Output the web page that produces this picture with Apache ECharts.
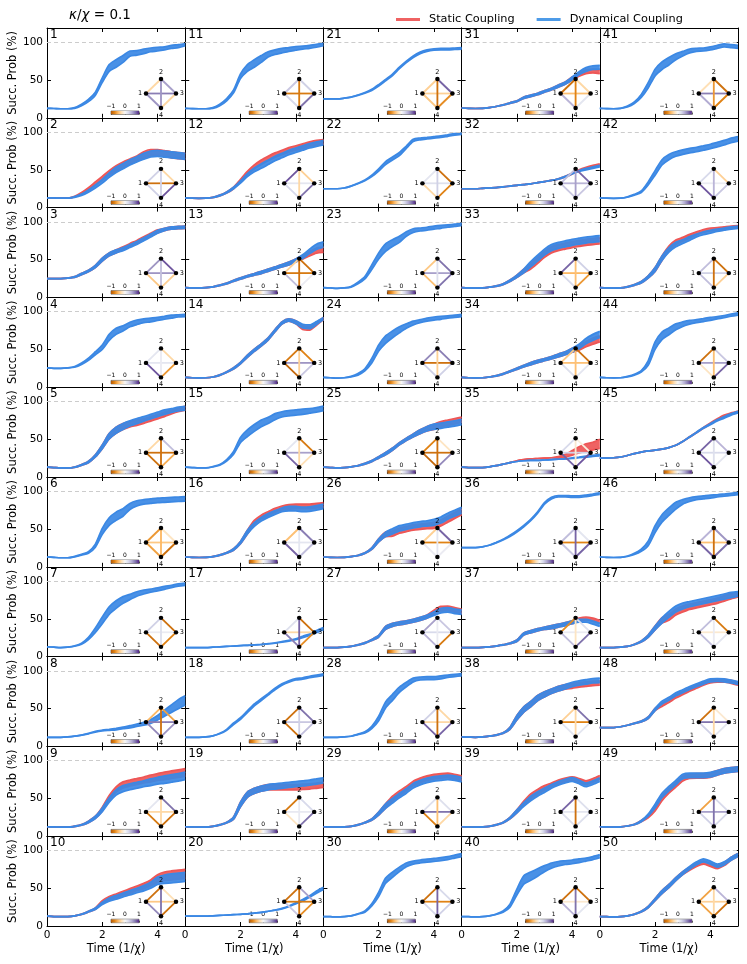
<!DOCTYPE html>
<html><head><meta charset="utf-8">
<script src="https://cdn.jsdelivr.net/npm/echarts/dist/echarts.min.js"></script>
<style>html,body{margin:0;padding:0;background:#fff}#c{width:747px;height:964px}</style>
</head><body><div id="c"></div>
<script>
// ---------------- DATA ----------------
const timeGrid = [0,0.25,0.5,0.75,1,1.25,1.5,1.75,2,2.25,2.5,2.75,3,3.25,3.5,3.75,4,4.25,4.5,4.75,5];
const xTicks = [0,2,4];
const yTicks = [0,50,100];
const cbTicks = [-1,0,1];

// Dynamical coupling (blue) band centre, panels 1..50
const blueMid = [
[12.5,12.3,12,12,13,17,23,32,50,66,72,78,85,86,88,90,91,92,94,95,97],
[13,12.8,12.5,12.5,14,17,22,28,35,43,50,55,60,64,68,71,72,71,70,69,68],
[25,25,25,25.5,27,31,35,41,50,57,61,64,68,72,77,82,87,90,92,92.5,93],
[25.5,25,25,25.5,27,31,37,45,53,66,74,78,83,86,88,89,90.5,92,93.5,94.5,95],
[13,12.5,12,12,13,16,20,28,40,54,62,67,71,74,77,80,83,86,88,90,91],
[13,12.5,12,12,13.5,16,19,28,47,60,67,72,80,84,86,87,88,88.5,89,89.5,90],
[13,12.5,12,12.5,14,17,24,35,48,61,69,75,79,83,85.5,87.5,89,91,93,95,96],
[12,12,12,12.5,13.5,15,17,19.5,21,22,23,24.5,26,28,30,33,38,44,50,56,61],
[12.5,12.3,12,12,13,15,19,25,35,48,58,63,65.5,67.5,69.5,71.5,73.5,75,76.5,78,80],
[13,12.5,12.3,12.5,13.5,15.5,19,23,30,35,38,41,44,47,50,54,60,62,63,64,65],
[12.5,12.2,12,12,13,17,24,35,55,66,72,78,84,87,89,90.5,92,93,94,95.5,97],
[13,12.5,12.3,12.5,13.5,16,20,26,34,43,50,55,60,65,69,73,76,79,82,84,86],
[13,12.5,12.5,13,14,16,18.5,22,25,28,30.5,33,36,39,42,45,49,54,61,67,70],
[13,12.5,12.3,12.5,13.5,16,20,25,32,41,49,56,64,75,85,89,86,81,80,85,91],
[13,12.5,12,12,13.5,16,22,32,49,58,65,71,75,80,83,84.5,85.5,86.5,87.5,89,91],
[13,12.5,12.3,12.5,13.5,15.5,18.5,23,32,46,56,63,68,72,75.5,77,77,76,76.5,78,80],
[12,12,12,12,12.5,13,13.5,14,14.5,15,15.5,16,17,18,19.5,21,23,26,29,33,37],
[12,12,12,12.5,14,17,22,30,37,46,55,62,69,76,82,86,89,90,92,93.5,95],
[12.5,12.3,12,12,13,15,18,24,42,55,60,63,65,66,67,68,69,70,71,72.5,74],
[13,13,13,13,13.5,14,14.5,15,15.5,16,17,18,19.5,21,23,26,30,34,39,45,50],
[25,25,25,26,27.5,30,33,37,43,50,57,66,74,81,86,89,90.5,91,91,91.5,92],
[25,25,25,26,28.5,32,36,42,50,59,65,71,80,89,91,92,93,94,95.5,97,98],
[13,12.5,12,12.5,14,19,26,40,55,66,72,77,84,88.5,90,91,92.5,93.5,94.5,95.5,97],
[13,12.5,12,12.5,14,17,23,35,52,63,70,76,81,85,87.5,89.5,91,92,93,94,95],
[13,12.5,12,12.5,13.5,15,17.5,21,26,31,37,44,50,55,60,64,66.5,68,69.5,71,73],
[13,12.5,12.3,12.5,13.5,15,18,24,35,43,47,51,53,55,56.5,57.5,59,62,67,71,75],
[12,12,12,12.5,13.5,15.5,18,22,27,38,42,44,45.5,47.5,50,53,57,61,62,60,59],
[12,12,12,12.5,13.5,16,18.5,25,37,55,65,75,82,88,90,90.5,90.5,91.5,93,94,95],
[12.5,12.3,12,12.3,13,15,18,22,30,40,47,54,60,67,71,74,76,77,78,77,75],
[12.5,12.3,12,12.5,13.5,16,19,28,42,60,68,75,81,84,85.5,86.5,87.5,88.5,90,92,94],
[13,12.5,12.3,12.5,13.5,15,17,19.5,22,26.5,29,31.5,35,38,42,46,52,59,64,66.5,67],
[25,25,25,25.5,26,26.5,27.5,28.5,29.5,30.5,31.5,33,34.5,36,38,41,45,48.5,51,53,55],
[13,12.5,12.3,12.5,13.5,15,17.5,22,28,35,44,52,60,66,69,71,73,74.5,76,77,78],
[13,12.5,12.3,12.5,13.5,15,17.5,21,24.5,28,31,34,36.5,39,42,45,49,54,61,66,70],
[13,12.5,12.3,12.5,13.5,15,17,19,20.5,21.5,22,22,22.5,23,23.5,24,25,26,27,28,29],
[25.5,25.5,25.5,26.5,28.5,32,36,41,47,54,62,72,84,91,93.5,93.5,93,93,94,95.5,97],
[12,12,12,12.3,13,14,15.5,17.5,21,30,33,35.5,37.5,39,41,43,45.5,47.5,47.5,45,42],
[12.5,12.3,12,12.5,13.5,15,17.5,24,38,49,56,64,69,73,76.5,79,82,84,85.5,87,87.5],
[12.5,12.3,12,12.3,13,15,18,24,33,42,50,56,61,66,70,73,75,72,68,71,75],
[12.5,12.3,12,12.3,13.5,15.5,19,27,45,61,66,71,76,80,82.5,84,85,86.5,88,90,92.5],
[12.5,12.2,12,12.5,15,20,29,43,60,69,75,81,85,88.5,90,90.5,92,94,96,95,94],
[13,12.5,12.3,12.5,14,17,21,32,46,60,67,71,73.5,75.5,77,79,81,83.5,86,89,91],
[13,12.5,12.3,12.5,14,16.5,20,27,37,52,63,70,74,78,82,85,87,89,90.5,92,93],
[13,12.5,12.3,12.5,14,16.5,21,32,55,68,74,80,83.5,86,87.5,89,90.5,92,93.5,95.5,97],
[25,25,25.5,26.5,28.5,31,33,34.5,35.5,37,39,42,47,53,59,65,70,75,79,83,86],
[13,12.5,12.3,12.5,14,17,22,31,50,64,73,81,86,89,91,92,93,94,95,96,97],
[12,12,12,12.5,13.5,16,20,27,38,48,56,63,67,69.5,71.5,73.5,75.5,77.5,79.5,81.5,83],
[25,25,25,26,28,30.5,33,38,49,58,63,69,73,77.5,81,84.5,87.5,88,87.5,86,84],
[12.5,12.3,12,12.3,13.5,15.5,20,28,40,54,63,71,79,80.5,80.5,80.5,81.5,84,86.5,88,89],
[12.5,12.3,12,12.3,13.5,15.5,19,25,35,45,53,62,70,77,83,87,84,80,83,89,94]
];

// half-width of the blue band (shot-to-shot spread), panels 1..50
const blueHalf = [
[0,0,0,0,0.5,1,1.5,2,3,4.5,5,4.5,3.5,3,3,2.5,2.5,2,2,2,1.5],
[0,0,0,0,0.5,1,1.5,2,2.5,3,3.5,3.5,3.5,3.5,4,4,4,4,4,4,4],
[0,0,0,0,0.5,1,1,1.5,2,2,2,2,2,2,2,2,2,1.5,1.5,1.5,1.5],
[0,0,0,0,0.5,1,1.5,2,3,4,4,3.5,3,3,2.5,2.5,2,2,2,1.5,1.5],
[0,0,0,0,0.3,0.5,1,1.5,2.5,3.5,4,4,3.5,3.5,3,3,3,3,2.5,2.5,2.5],
[0,0,0,0,0.3,0.5,1,2,4,5,5.5,5,4,3.5,3,3,3,3,3,3,3],
[0,0,0,0,0.3,0.7,1.5,3,4.5,5,5,4.5,3.5,3,2.5,2,2,2,1.5,1.5,1.5],
[0,0,0,0,0,0,0.3,0.5,0.5,0.7,1,1,1.5,1.5,2,2.5,3,4,5,6,6],
[0,0,0,0,0.3,0.5,1,1.5,2.5,3,3.5,4,4,4,4,4.5,4.5,5,5,5,5],
[0,0,0,0,0,0.3,0.5,1,1.5,2,2.5,2.5,3,3,3.5,4,5,5.5,6,6,6],
[0,0,0,0,0.5,1,1.5,2,3,4.5,5,4.5,3.5,3,3,2.5,2.5,2,2,2,1.5],
[0,0,0,0,0.2,0.5,0.8,1,1.5,2,2.5,3,3,3,3,3,3,3,3,3,3],
[0,0,0,0,0,0.3,0.5,0.8,1,1,1.2,1.5,1.5,1.5,1.5,2,2,2.5,3,3.5,3.5],
[0,0,0,0,0,0.3,0.5,1,1,1.5,1.5,1.5,1.5,1.5,1.5,1.5,2,2.5,2.5,2,1.5],
[0,0,0,0,0.3,0.5,1,2,3.5,4.5,4.5,4.5,4,4,3.5,3.5,3.5,3.5,3,3,3],
[0,0,0,0,0,0.3,0.5,1,1.5,2.5,2.5,2.5,2.5,2.5,2.5,3,3,3,3,3,3],
[0,0,0,0,0,0,0,0,0,0,0,0,0.3,0.3,0.5,0.5,0.7,1,1,1.5,1.5],
[0,0,0,0,0,0.3,0.5,1,1,1.2,1.2,1.2,1,1,1,1,1,1,1,1,1],
[0,0,0,0,0,0.3,0.5,1.5,3,3.5,3.5,3.5,3.5,3.5,3.5,3.5,3.5,3.5,3.5,3.5,3.5],
[0,0,0,0,0,0,0,0,0,0,0,0,0,0,0.3,0.5,0.7,1,1,1.5,1.5],
[0,0,0,0,0,0.3,0.5,0.7,1,1,1,1,1,1,1,1,1,1,1,1,1],
[0,0,0,0,0,0.3,0.5,1,1.5,2,2,2,1.5,1.5,1.2,1,1,1,1,1,1],
[0,0,0,0,0.3,1,1.5,3,4,5,4.5,4,3,2.5,2,2,2,2,1.5,1.5,1.5],
[0,0,0,0,0.3,1,1.5,3,4,5,4.5,4,3,2.5,2,2,2,2,1.5,1.5,1.5],
[0,0,0,0,0,0.3,0.5,0.7,1,1.5,1.5,1.5,1.5,2,2.5,3,3.5,3.5,3.5,3.5,3.5],
[0,0,0,0,0,0.3,0.5,1,2,3,3.5,3.5,3.5,3.5,3.5,3.5,4,4,4,4,4],
[0,0,0,0,0,0.3,0.5,0.8,1,2,2,2,2,2,2,2,2.5,3,3,3,3],
[0,0,0,0,0,0.3,0.8,1.5,3,4,4,3.5,3,2.5,2,2,2,2,1.5,1.5,1.5],
[0,0,0,0,0,0.3,0.5,1,2,3,3,3,3,3,3,3,3,3,3,3,3],
[0,0,0,0,0,0.3,0.8,1.5,3,3.5,3.5,3,2.5,2,2,2,2,2,2,2,2],
[0,0,0,0,0,0,0.3,0.5,0.7,1,1,1,1,1.2,1.5,1.5,2,2,2.5,2.5,2.5],
[0,0,0,0,0,0,0,0,0,0,0,0,0,0,0.3,0.5,0.5,0.7,1,1,1],
[0,0,0,0,0,0.3,0.5,1,1.5,2.5,3.5,4,4,4,4,4,4,4,4,4,4],
[0,0,0,0,0,0.3,0.5,0.7,1,1,1.5,1.5,1.5,1.5,2,2,2.5,3,3.5,4,4],
[0,0,0,0,0,0,0,0,0,0,0,0,0,0,0,0,0.5,0.5,0.7,0.7,1],
[0,0,0,0,0,0.3,0.5,1,1,1,1,1,1,1,1,1,1,1,1,1,1],
[0,0,0,0,0,0,0.3,0.5,1,1.5,1.5,1.5,1.5,2,2,2,2,2,2,2,2],
[0,0,0,0,0,0.3,0.5,1.5,3,3.5,3.5,3.5,3.5,3,3,3,3,3,3,3,3],
[0,0,0,0,0,0.3,0.5,1,2,2.5,3,3,3,2.5,2.5,2.5,2.5,2.5,2.5,2.5,2.5],
[0,0,0,0,0,0.3,0.8,2,4,5.5,5.5,5,4,3.5,3,2.5,2.5,2.5,2,2,2],
[0,0,0,0,0.5,1,2,3.5,4.5,5,5,4,3,2.5,2,2,2,2,2,2,2],
[0,0,0,0,0.3,0.5,1,2,3,3.5,3.5,3,3,3,3,3,3,3,3,3,3],
[0,0,0,0,0.3,0.5,1,1.5,2.5,3,3,3,2.5,2.5,2,2,2,1.5,1.5,1.5,1.5],
[0,0,0,0,0.3,0.5,1,3,5,5,4.5,4,3,2.5,2,2,2,1.5,1.5,1.5,1.5],
[0,0,0,0,0,0,0,0,0,0,0,0,0,0.3,0.5,0.5,0.7,0.7,1,1,1],
[0,0,0,0,0.3,0.8,1.5,3,4.5,5,5,4.5,3,2.5,2,2,2,1.5,1.5,1.5,1.5],
[0,0,0,0,0,0.3,0.8,1.5,2.5,3.5,4,4,4,3.5,3.5,3.5,3.5,3.5,3.5,3.5,3],
[0,0,0,0,0,0.3,0.5,1,1.5,2,2,2,2,2,2,2,2,2,2,2,2],
[0,0,0,0,0,0.3,0.8,1.5,2.5,3,3,3,3,3,3,3,3,3,3,3,3],
[0,0,0,0,0,0.3,0.5,1,1.5,2,2,2,2,2,2,2,2,2,2,2,2]
];

// Static coupling (red) where it departs from the blue band: panel -> [first time index, centre values]
const redShift = {
  2:[4,[14.5,19,25,32,39,46,52,57,61,65,70,73,73,71.5,70,69,68]],
  3:[11,[65,69.5,73.5,78.5,83,87.5]],
  5:[12,[70,72,74,77,80,83,86,89,91]],
  9:[8,[36,51,62,68,70.5,72.5,74.5,76.5,78.5,80,81.5,83,84.5]],
  10:[8,[32,37,40,43.5,46.5,50,53,57,63,66,67,68,69]],
  12:[8,[36,46,54,60,65,69.5,73,76.5,79,81.5,84,86,87]],
  13:[17,[53,58,62,63]],
  14:[17,[79,78,84,91]],
  16:[10,[59,66,70.5,75,78,79.5,80,80,80,81,82]],
  19:[12,[65,65,65,65,65,65.5,66,67,68]],
  25:[16,[66.5,70,72,74,76]],
  26:[10,[44,48,50,52,53,54,55,58,63,68,73]],
  27:[16,[59,63.5,64,62,60]],
  29:[10,[50,57,63,70,74,77,79,80,80.5,79,77]],
  31:[17,[57,61,62,61]],
  32:[17,[49.5,52.5,55,57]],
  33:[10,[41,49,57,63,66,68,70,71.5,73,74,75]],
  34:[17,[52,57,61,64]],
  35:[8,[21.5,23,24,24.5,25,25.5,26,28,32,36,39,41,44]],
  37:[17,[49,50.5,49,46]],
  38:[16,[80,81.5,82.5,83.5,84]],
  39:[9,[44,53,59,64,68,72,74.5,76,74,71,74,78]],
  43:[10,[65,73,77,81,85,88,90,91,92,93,93.5]],
  45:[16,[71,76.5,81,84,86.5]],
  47:[10,[52,59,63,66,68,70,72,74,77,80,82]],
  48:[9,[55,60,66,70.5,75,79,83,86,87,87,85.5,83]],
  49:[7,[26,36,50,60,68,76,79.5,80,80,81,84,86.5,88,89]],
  50:[13,[76,81,84,81,78,82,89,94]]
};
const redHalfShift = { 35:[14,[1,2,3,4,5,5,6]] };

// coupling values on the inset edges [1-2, 2-3, 3-4, 4-1, 1-3, 2-4], panels 1..50
const edgeVals = [
[-0.3,0.55,-0.3,0.6,0.7,0.6],[0.3,-0.3,0.85,0.3,-0.85,0.3],[0.6,0.85,-0.35,-0.4,0.6,0.4],
[0.15,-0.3,-0.65,0.85,0.15,0.1],[-0.3,0.4,-0.55,-0.85,-0.85,-0.85],[-0.65,-0.2,-0.85,-0.6,-0.4,-0.5],
[0.3,-0.85,-0.75,-0.85,0.1,0.2],[-0.5,-0.6,0.6,0.65,0.7,-0.85],[0.15,0.75,-0.85,-0.8,-0.3,-0.3],
[-0.85,-0.25,-0.85,0.65,-0.4,0.75],
[0.35,0.3,0.75,0.25,-0.8,-0.8],[0.85,-0.35,0.75,0.25,0.15,-0.3],[-0.35,-0.85,0.1,0.4,-0.8,-0.85],
[-0.8,-0.75,0.35,-0.9,0.6,-0.35],[0.15,-0.8,-0.25,0.8,0.55,-0.3],[-0.45,0.7,0.4,0.8,0.15,0.15],
[0.2,-0.85,-0.7,0.7,-0.3,0.8],[-0.85,0.75,0.4,-0.85,0.35,0.3],[-0.8,0.25,0.75,-0.2,0.12,0.12],
[-0.85,0.55,-0.7,0.35,-0.8,-0.85],
[-0.35,0.8,-0.7,-0.4,-0.35,-0.85],[0.15,-0.85,-0.75,-0.3,0.2,0.3],[-0.4,0.75,0.75,-0.45,0.55,0.2],
[0.65,0.7,0.3,0.3,-0.85,-0.35],[-0.75,-0.2,0.65,-0.9,-0.85,-0.85],[-0.35,0.8,0.1,0.1,-0.75,0.15],
[0.55,0.35,-0.8,0.45,0.25,0.1],[0.3,-0.3,0.8,0.8,-0.3,-0.85],[0.2,0.2,-0.3,-0.75,0.75,-0.45],
[-0.85,0.25,0.3,0.25,-0.75,0.8],
[-0.85,-0.3,0.15,0.45,-0.45,-0.75],[0.4,0.8,0.35,0.35,0.45,0.55],[0.8,0.3,-0.65,0.25,-0.5,-0.45],
[-0.4,-0.85,0.15,0.2,-0.45,-0.45],[0.25,-0.1,0.85,0.8,0.3,-0.15],[0.4,0.15,0.8,0.35,-0.75,0.8],
[-0.7,0.2,0.75,0.4,0.1,-0.2],[-0.35,0.75,0.15,0.15,-0.75,-0.3],[0.8,0.2,0.2,0.2,0.15,-0.85],
[-0.85,-0.85,0.15,0.45,-0.15,0.75],
[-0.25,-0.85,-0.75,0.5,0.7,-0.65],[0.25,-0.35,0.35,0.85,0.1,0.45],[0.4,-0.85,-0.35,0.4,0.3,-0.85],
[-0.85,0.35,0.8,-0.2,0.55,-0.45],[0.8,0.45,0.15,0.85,0.25,0.2],[0.45,0.6,0.75,0.8,-0.45,-0.85],
[0.4,-0.8,0.15,0.4,-0.15,0.1],[-0.85,-0.15,0.15,0.3,0.75,-0.3],[-0.6,0.25,0.25,0.3,0.55,0.75],
[-0.6,0.45,-0.85,-0.6,-0.35,-0.3]
];
const nodeNames = ['1','2','3','4'];
const nodeSlots = [[0,1],[1,0],[2,1],[1,2]];          // diamond arrangement of the four nodes
const nodeLabelSide = ['left','top','right','bottom'];
const edgePairs = [[0,1],[1,2],[2,3],[3,0],[0,2],[1,3]];

// ---------------- STYLE ----------------
const FONT = 'DejaVu Sans';
const BLUE = '#3b88e4', RED = '#ee5656';
const cmapStops = [[-1,'#b35806'],[-0.75,'#e08214'],[-0.5,'#fdb863'],[-0.25,'#fee0b6'],[0,'#f7f7f7'],
                   [0.25,'#d8daeb'],[0.5,'#b2abd2'],[0.75,'#8073ac'],[1,'#542788']];
function hex2rgb(h){return [parseInt(h.substr(1,2),16),parseInt(h.substr(3,2),16),parseInt(h.substr(5,2),16)];}
function cmap(v){
  v=Math.max(-1,Math.min(1,v));
  for(let i=0;i<cmapStops.length-1;i++){
    const a=cmapStops[i],b=cmapStops[i+1];
    if(v<=b[0]){const f=(v-a[0])/(b[0]-a[0]);const ca=hex2rgb(a[1]),cb=hex2rgb(b[1]);
      return 'rgb('+ca.map((x,k)=>Math.round(x+(cb[k]-x)*f)).join(',')+')';}
  }
  return cmapStops[cmapStops.length-1][1];
}

const GL=47, GT=28, GW=138.2, GH=89.8;
const grids=[], xAxes=[], yAxes=[], series=[];
const titles=[{text:'{i|κ}/{i|χ} = 0.1', left:69, top:8, padding:0,
  textStyle:{fontSize:13.5, fontWeight:'normal', color:'#000', fontFamily:FONT,
    rich:{i:{fontStyle:'italic', fontSize:13.5, fontFamily:FONT, color:'#000'}}}}];

function addBand(xi, yi, mid, half, color, name, z, withRef){
  const lo = timeGrid.map((t,k)=>[t, mid[k]-half[k]]);
  const hi = timeGrid.map((t,k)=>[t, mid[k]+half[k]]);
  // filled spread between the lower and upper edge
  series.push({type:'custom', name, xAxisIndex:xi, yAxisIndex:yi, z, silent:true, animation:false,
    data: timeGrid.map((t,k)=>[t, lo[k][1], hi[k][1]]),
    encode:{x:0, y:[1,2]},
    renderItem:(params, api)=>{
      if(params.dataIndex!==0) return null;
      const pts=[];
      for(let k=0;k<lo.length;k++) pts.push(api.coord(lo[k]));
      for(let k=hi.length-1;k>=0;k--) pts.push(api.coord(hi[k]));
      return {type:'polygon', shape:{points:pts}, style:{fill:color, opacity:0.92}};
    }});
  const common = {type:'line', name, xAxisIndex:xi, yAxisIndex:yi, symbol:'none',
    smooth:0.25, silent:true, animation:false, z, lineStyle:{color, width:1.7}};
  const base = Object.assign({}, common, {data:lo});
  if(withRef){
    base.markLine = {silent:true, symbol:['none','none'], label:{show:false}, animation:false,
      lineStyle:{color:'#cccccc', type:[4,3], width:1.2}, data:[{yAxis:100}]};
  }
  series.push(base);
  series.push(Object.assign({}, common, {data:hi}));
}

for(let p=0;p<50;p++){
  const c=Math.floor(p/10), r=p%10;
  const left=GL+c*GW, top=GT+r*GH;
  const gi=grids.length;
  grids.push({left, top, width:GW, height:GH, show:false, containLabel:false, outerBoundsMode:'none'});
  const axLine={show:true, onZero:false, lineStyle:{color:'#000', width:1}};
  const tick={show:true, inside:true, length:4, lineStyle:{color:'#000', width:1}};
  const xi=xAxes.length;
  xAxes.push({gridIndex:gi, type:'value', min:0, max:5, interval:2, position:'bottom',
    axisLine:axLine, axisTick:tick, splitLine:{show:false},
    axisLabel:{show:r===9, fontSize:10.5, color:'#000', fontFamily:FONT, margin:4,
      formatter:v=>xTicks.indexOf(v)>=0?String(v):''},
    name:r===9?'Time (1/χ)':'', nameLocation:'middle', nameGap:17,
    nameTextStyle:{fontSize:11.5, color:'#000', fontFamily:FONT}});
  xAxes.push({gridIndex:gi, type:'value', min:0, max:5, interval:2, position:'top',
    axisLine:axLine, axisTick:tick, splitLine:{show:false}, axisLabel:{show:false}});
  const yi=yAxes.length;
  yAxes.push({gridIndex:gi, type:'value', min:0, max:119, interval:50, position:'left',
    axisLine:axLine, axisTick:tick, splitLine:{show:false},
    axisLabel:{show:c===0, fontSize:10.5, color:'#000', fontFamily:FONT, margin:4,
      formatter:v=>yTicks.indexOf(v)>=0?String(v):''},
    name:c===0?'Succ. Prob (%)':'', nameLocation:'middle', nameGap:22, nameRotate:90,
    nameTextStyle:{fontSize:11.5, color:'#000', fontFamily:FONT}});
  yAxes.push({gridIndex:gi, type:'value', min:0, max:119, interval:50, position:'right',
    axisLine:axLine, axisTick:tick, splitLine:{show:false}, axisLabel:{show:false}});

  const mid=blueMid[p], half=blueHalf[p];
  // static coupling curve (drawn first, under the dynamical one)
  const rs=redShift[p+1];
  if(rs){
    const rmid=mid.slice(); rs[1].forEach((v,k)=>{rmid[rs[0]+k]=v;});
    const rhalf=half.slice(); const rh=redHalfShift[p+1];
    if(rh){ rh[1].forEach((v,k)=>{rhalf[rh[0]+k]=v;}); }
    addBand(xi, yi, rmid, rhalf, RED, 'Static Coupling', 2, false);
  }
  addBand(xi, yi, mid, half, BLUE, 'Dynamical Coupling', 3, true);

  titles.push({text:String(p+1), left:left+3, top:top+1, padding:0,
    textStyle:{fontSize:12, fontWeight:'normal', color:'#000', fontFamily:FONT}});

  // colour bar
  const cg=grids.length;
  grids.push({left:left+64, top:top+83, width:28, height:3.5, show:true, borderColor:'#333', borderWidth:0.6,
    backgroundColor:'rgba(0,0,0,0)', containLabel:false, outerBoundsMode:'none'});
  const cx=xAxes.length;
  xAxes.push({gridIndex:cg, type:'value', min:-1, max:1, interval:1, position:'top',
    axisLine:{show:false}, axisTick:{show:true, length:2, lineStyle:{color:'#000', width:0.6}},
    splitLine:{show:false},
    axisLabel:{fontSize:6, color:'#000', fontFamily:FONT, margin:1.5,
      formatter:v=>cbTicks.indexOf(v)<0?'':(v<0?'−'+Math.abs(v):String(v))}});
  const cy=yAxes.length;
  yAxes.push({gridIndex:cg, type:'value', min:0, max:1, show:false});
  series.push({type:'line', xAxisIndex:cx, yAxisIndex:cy, data:[[-1,1],[1,1]], symbol:'none',
    lineStyle:{width:0}, silent:true, animation:false, z:6,
    areaStyle:{opacity:1, color:new echarts.graphic.LinearGradient(0,0,1,0,
      cmapStops.map(s=>({offset:(s[0]+1)/2, color:s[1]})))}});

  // inset coupling graph
  series.push({type:'graph', layout:'none', left:left+99, top:top+51, width:30, height:29,
    roam:false, silent:true, animation:false, z:7,
    symbol:'circle', symbolSize:4.5, itemStyle:{color:'#000'},
    label:{show:true, fontSize:6.5, color:'#000', fontFamily:FONT, distance:1.5},
    edgeSymbol:['none','none'],
    data:nodeNames.map((n,k)=>({name:n, x:nodeSlots[k][0], y:nodeSlots[k][1],
      label:{position:nodeLabelSide[k]}})),
    links:edgePairs.map((e,k)=>({source:nodeNames[e[0]], target:nodeNames[e[1]],
      lineStyle:{color:cmap(edgeVals[p][k]), width:1.8, opacity:1, curveness:0}})),
    lineStyle:{width:1.8, opacity:1}});
}

const chart=echarts.init(document.getElementById('c'), null, {renderer:'canvas'});
chart.setOption({
  animation:false,
  backgroundColor:'#fff',
  title:titles,
  legend:{left:391, top:9, itemWidth:24, itemHeight:3, itemGap:22, icon:'rect', selectedMode:false,
    textStyle:{fontSize:11.3, color:'#000', fontFamily:FONT, padding:[0,0,0,4]},
    data:[{name:'Static Coupling', itemStyle:{color:'#ef6262'}},
          {name:'Dynamical Coupling', itemStyle:{color:'#4d9be8'}}]},
  grid:grids, xAxis:xAxes, yAxis:yAxes, series:series
});
</script></body></html>
